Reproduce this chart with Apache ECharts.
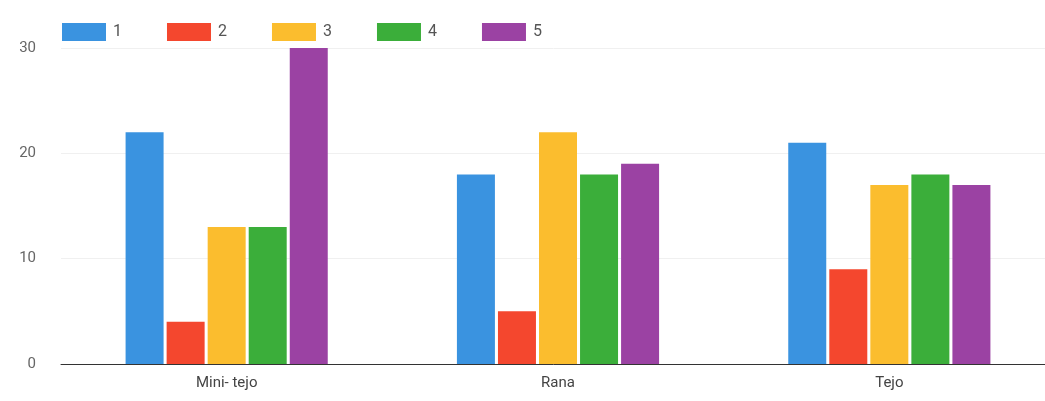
<!DOCTYPE html>
<html>
<head>
<meta charset="utf-8">
<script src="https://cdn.jsdelivr.net/npm/echarts@6/dist/echarts.min.js"></script>
<style>
  html, body { margin: 0; padding: 0; background: #fff; }
  #chart { width: 1045px; height: 401px; }
</style>
</head>
<body>
<div id="chart"></div>
<script>
// categories and series
var categories = ['Mini- tejo', 'Rana', 'Tejo'];
var seriesNames = ['1', '2', '3', '4', '5'];
var values1 = [22, 18, 21];
var values2 = [4, 5, 9];
var values3 = [13, 22, 17];
var values4 = [13, 18, 18];
var values5 = [30, 19, 17];
var yTicks = [0, 10, 20, 30];

var colors = ['#3a93e0', '#f4472e', '#fbbd2e', '#3bae3a', '#9b42a3'];
var allValues = [values1, values2, values3, values4, values5];

var chart = echarts.init(document.getElementById('chart'));

let option = {
  animation: false,
  color: colors,
  textStyle: { fontFamily: 'Roboto, "Liberation Sans", Arial, sans-serif' },
  legend: {
    left: 62,
    top: 23,
    padding: 0,
    itemWidth: 44,
    itemHeight: 18,
    itemGap: 45,
    icon: 'rect',
    textStyle: { color: '#555', fontSize: 16, padding: [0, 0, 0, 2] },
    data: seriesNames
  },
  grid: {
    left: 61,
    right: -10,
    top: 48,
    bottom: 37,
    outerBoundsMode: 'none'
  },
  xAxis: {
    type: 'category',
    data: categories,
    axisTick: { show: false },
    axisLine: { lineStyle: { color: '#333', width: 1 } },
    axisLabel: { color: '#444', fontSize: 15, margin: 12 }
  },
  yAxis: {
    type: 'value',
    min: yTicks[0],
    max: yTicks[yTicks.length - 1],
    interval: 10,
    axisLine: { show: false },
    axisTick: { show: false },
    splitLine: { lineStyle: { color: '#f0f0f0' } },
    axisLabel: { color: '#666', fontSize: 15, margin: 25 }
  },
  series: seriesNames.map(function (name, i) {
    return {
      name: name,
      type: 'bar',
      barWidth: 38,
      barGap: '8%',
      data: allValues[i]
    };
  })
};

chart.setOption(option);
</script>
</body>
</html>
